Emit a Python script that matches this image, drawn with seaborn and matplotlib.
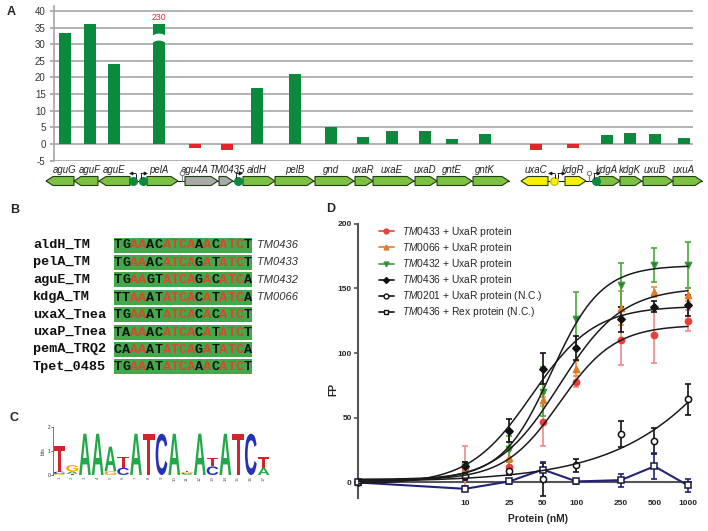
import numpy as np
import pandas as pd
import matplotlib
matplotlib.use("Agg")
import matplotlib.pyplot as plt
import seaborn as sns
from matplotlib.patches import Polygon, Rectangle, PathPatch
from matplotlib.textpath import TextPath
from matplotlib.font_manager import FontProperties
from matplotlib.transforms import Affine2D
from matplotlib.lines import Line2D
from matplotlib.ticker import NullLocator

# ---------------- A: expression change along the gene map ----------------
genes = ['aguG', 'aguF', 'aguE', 'pelA', 'agu4A', 'TM0435', 'aldH', 'pelB', 'gnd',
         'uxaR', 'uxaE', 'uxaD', 'gntE', 'gntK', 'uxaC', 'kdgR', 'kdgA', 'kdgK',
         'uxuB', 'uxuA']
gene_start = [46, 74, 99, 147, 185, 219, 243, 275, 315, 355, 373, 415, 437, 473,
              521, 565, 599, 620, 643, 673]
gene_end = [74, 98, 130, 178, 218, 233, 275, 314, 354, 373, 414, 437, 472, 509,
            548, 586, 620, 642, 673, 702]
strand = [-1, -1, -1, 1, 1, 1, 1, 1, 1, 1, 1, 1, 1, 1, -1, 1, 1, 1, 1, 1]
gene_group = ['green'] * 4 + ['grey'] * 2 + ['green'] * 8 + ['yellow'] * 2 + ['green'] * 4
bar_x = [65, 90, 114, 159, 195, 227, 257, 295, 331, 363, 392, 425, 452, 485,
         536, 573, 607, 630, 655, 684]
fold_change = [33.5, 41.1, 24.0, 230, -1.1, -1.8, 16.9, 21.0, 5.2, 2.2, 4.0, 4.0,
               1.6, 3.0, -1.8, -1.1, 2.7, 3.2, 3.0, 1.8]
y_cap = 36  # pelA bar is broken at this height

# ---------------- B: binding sites ----------------
site_names = ['aldH_TM', 'pelA_TM', 'aguE_TM', 'kdgA_TM', 'uxaX_Tnea', 'uxaP_Tnea',
              'pemA_TRQ2', 'Tpet_0485']
site_seqs = ['TGAAACATCAAACATCT', 'TGAAACATCAGATATCT', 'TGAAGTATCAGACATCA',
             'TTAAATATCACATATCA', 'TGAAATATCACACATCT', 'TAAAACATCACATATCT',
             'CAAAATATCAGATATCA', 'TGAAATATCAAACATCT']
site_locus = ['TM0436', 'TM0433', 'TM0432', 'TM0066', '', '', '', '']
conserved_pos = [3, 4, 7, 8, 9, 10, 12, 14, 15, 16]

# ---------------- C: sequence logo (bits) ----------------
logo_A = [0, 0.10, 1.72, 1.72, 1.03, 0, 1.72, 0, 0, 1.72, 0.04, 1.72, 0, 1.72, 0, 0, 0.29]
logo_C = [0.10, 0, 0, 0, 0, 0.30, 0, 0, 1.72, 0, 0.04, 0, 0.36, 0, 0, 1.72, 0]
logo_G = [0.04, 0.26, 0, 0, 0.15, 0, 0, 0, 0, 0, 0.04, 0, 0, 0, 0, 0, 0]
logo_T = [1.05, 0.05, 0, 0, 0, 0.47, 0, 1.72, 0, 0, 0.04, 0, 0.36, 0, 1.72, 0, 0.47]

# ---------------- D: FP binding assay ----------------
conc = [0, 10, 25, 50, 100, 250, 500, 1000]
fp_TM0433 = [0, 12, 12, 47, 78, 110, 114, 125]
err_TM0433 = [0, 16, 5, 19, 4, 19, 22, 8]
fp_TM0066 = [0, 11, 19, 64, 88, 135, 147, 145]
err_TM0066 = [0, 3, 6, 5, 6, 13, 4, 5]
fp_TM0432 = [0, 12, 26, 70, 126, 153, 168, 168]
err_TM0432 = [0, 4, 10, 19, 21, 17, 13, 18]
fp_TM0436 = [0, 12.5, 40, 88, 104, 126, 136, 137]
err_TM0436 = [0, 3, 9, 12, 9, 10, 4, 8]
fp_TM0201 = [0, 5, 8.7, 2.3, 13.3, 37.4, 31.8, 64.4]
err_TM0201 = [0, 3, 3, 13, 5, 10, 10, 12]
fp_rex = [0, -4.9, 0.8, 10, 0.8, 1.8, 12.5, -2.3]
err_rex = [0, 2, 2, 6, 2, 5, 10, 5]

sns.set_theme(style='white')
plt.rcParams['font.family'] = ['Liberation Sans', 'DejaVu Sans']
plt.rcParams['mathtext.fontset'] = 'custom'
plt.rcParams['mathtext.it'] = 'Liberation Sans:italic'
plt.rcParams['mathtext.rm'] = 'Liberation Sans'
plt.rcParams['axes.unicode_minus'] = False

W, H = 708, 531
fig = plt.figure(figsize=(W / 100, H / 100), dpi=100)


def px_axes(x0, y0, x1, y1):
    return fig.add_axes([x0 / W, 1 - y1 / H, (x1 - x0) / W, (y1 - y0) / H])


# --- A bars
axA = px_axes(54, 6, 693, 160.6)
dfA = pd.DataFrame({'x': bar_x, 'fc': fold_change})
dfA['shown'] = dfA['fc'].clip(upper=y_cap)
dfA['dir'] = np.where(dfA['fc'] > 0, 'up', 'down')
sns.barplot(data=dfA, x='x', y='shown', hue='dir', native_scale=True,
            palette={'up': '#0b8a3e', 'down': '#e3262b'}, width=12 / 23, dodge=False,
            errorbar=None, legend=False, saturation=1, linewidth=0, ax=axA)
axA.set_xlim(54, 693)
axA.set_ylim(-5, 41.5)
axA.set_yticks(range(-5, 41, 5))
axA.set_xticks([])
axA.set_xlabel('')
axA.set_ylabel('')
axA.yaxis.grid(True, color='#a6a6a6', lw=1.2)
axA.set_axisbelow(True)
for s in ['top', 'right', 'bottom']:
    axA.spines[s].set_visible(False)
axA.spines['left'].set_color('#a6a6a6')
axA.spines['left'].set_linewidth(1.2)
axA.tick_params(axis='y', labelsize=7, length=3, color='#a6a6a6', pad=3,
                labelcolor='#333333', left=True)
# break mark on the capped bar
bi = int(np.argmax(fold_change))
bx = bar_x[bi]
xs = np.linspace(bx - 6.5, bx + 6.5, 15)
hump = 0.6 * (1 - ((xs - bx) / 6.5) ** 2)
brk = list(zip(xs, 30.5 + hump)) + list(zip(xs[::-1], (32.6 + hump)[::-1]))
axA.add_patch(Polygon(brk, closed=True, fc='white', ec='none', zorder=3))
axA.text(bx, 37.9, str(fold_change[bi]), color='#e3262b', ha='center', va='center',
         fontsize=6.3)

# --- overlay in pixel coordinates: gene map, panel B, panel labels
ov = px_axes(0, 0, W, H)
ov.set_xlim(0, W)
ov.set_ylim(H, 0)
ov.axis('off')

fills = {'green': '#7cc142', 'grey': '#a9a9a9', 'yellow': '#f6ee0c'}
yc, gh = 181, 9
split = genes.index('uxaC')
ov.plot([gene_start[0], gene_end[split - 1]], [yc, yc], color='k', lw=0.8, zorder=1)
ov.plot([gene_start[split], gene_end[-1]], [yc, yc], color='k', lw=0.8, zorder=1)
for name, s, e, d, g, b in zip(genes, gene_start, gene_end, strand, gene_group, bar_x):
    head = min(7, (e - s) * 0.5)
    if d > 0:
        pts = [(s, yc - gh / 2), (e - head, yc - gh / 2), (e, yc), (e - head, yc + gh / 2),
               (s, yc + gh / 2)]
    else:
        pts = [(e, yc - gh / 2), (s + head, yc - gh / 2), (s, yc), (s + head, yc + gh / 2),
               (e, yc + gh / 2)]
    ov.add_patch(Polygon(pts, closed=True, fc=fills[g], ec='#233d12', lw=0.8, zorder=2))
    ov.text(b, 170, name, style='italic', fontsize=6.9, ha='center',
            va='center', color='#222222')

# binding sites, promoters and terminators on the map
for px, c in [(133, '#0b8a3e'), (143, '#0b8a3e'), (238, '#0b8a3e'), (596, '#0b8a3e'),
              (554, '#f6ee0c')]:
    ov.plot([px], [yc], marker='o', ms=5.5, color=c, mec=c if c != '#f6ee0c' else '#c8c000',
            zorder=3)
for vx, tip in [(136, 129), (141, 148), (236, 243), (555, 548), (558, 566), (594, 601)]:
    ov.plot([vx, vx], [yc - 3, 173.5], color='k', lw=0.7, zorder=3)
    ov.annotate('', xy=(tip, 173.5), xytext=(vx, 173.5),
                arrowprops=dict(arrowstyle='-|>', lw=0.7, color='k', mutation_scale=5,
                                shrinkA=0, shrinkB=0), zorder=3)
for tx in [182, 589]:
    ov.plot([tx, tx], [yc, 175], color='#777777', lw=0.7, zorder=3)
    ov.plot([tx], [173], marker='o', ms=3.2, mfc='white', mec='#777777', mew=0.7, zorder=3)

# panel B
row0, step = 245, 17.4
mono = dict(family='Liberation Mono', weight='bold', fontsize=9.7)
for r, (nm, seq, loc) in enumerate(zip(site_names, site_seqs, site_locus)):
    yr = row0 + r * step
    ov.text(33, yr, nm, ha='left', va='center', color='#111111', **mono)
    ov.add_patch(Rectangle((114, yr - 7.5), 138, 15, fc='#43a84c', ec='none', zorder=1))
    for i, ch in enumerate(seq):
        col = '#d9482b' if (i + 1) in conserved_pos else '#111111'
        ov.text(114 + 8.1 * (i + 0.5), yr + 0.5, ch, ha='center', va='center', color=col,
                zorder=2, **mono)
    if loc:
        ov.text(257, yr, loc, style='italic', fontsize=8, ha='left', va='center',
                color='#333333')

for lab, (lx, ly) in {'A': (7, 12), 'B': (10, 210), 'C': (10, 418), 'D': (326, 209)}.items():
    ov.text(lx, ly, lab, fontweight='bold', fontsize=9, ha='left', va='center')

# --- C logo
axC = px_axes(53, 427, 270, 475)
axC.set_xlim(0.5, 17.5)
axC.set_ylim(0, 2)
logo_font = FontProperties(family='Liberation Sans', weight='bold')
logo_cols = {'A': '#21a848', 'C': '#2432b8', 'G': '#f2a20c', 'T': '#d4232b'}
for i in range(17):
    stack = sorted([(logo_A[i], 'A'), (logo_C[i], 'C'), (logo_G[i], 'G'), (logo_T[i], 'T')])
    y0 = 0
    for h, ch in stack:
        if h <= 0:
            continue
        tp = TextPath((0, 0), ch, size=1, prop=logo_font)
        bb = tp.get_extents()
        tr = Affine2D().translate(-bb.x0, -bb.y0).scale(0.92 / bb.width, h / bb.height) \
            .translate(i + 1 - 0.46, y0)
        axC.add_patch(PathPatch(tr.transform_path(tp), fc=logo_cols[ch], ec='none'))
        y0 += h
for s in ['top', 'right', 'bottom']:
    axC.spines[s].set_visible(False)
axC.spines['left'].set_linewidth(0.5)
axC.spines['left'].set_color('#444444')
axC.set_yticks([0, 1, 2])
axC.set_xticks(range(1, 18))
axC.set_xticklabels([str(i) for i in range(1, 18)], rotation=90)
axC.tick_params(axis='y', labelsize=3.5, length=1.5, width=0.5, pad=0.5, left=True)
axC.tick_params(axis='x', labelsize=3.2, length=0, pad=1, labelcolor='#555555')
axC.set_ylabel('bits', fontsize=3.5, labelpad=1)

# --- D binding curves
axD = px_axes(358, 223.7, 692, 498)
axD.set_xscale('log')
axD.set_xlim(1.1, 1086)
axD.set_ylim(-12, 200)
conc_plot = np.where(np.array(conc) == 0, 1.1, np.array(conc, float))
xfit = np.logspace(np.log10(1.1), 3, 200)


def fit_hill(x, y):
    x = np.asarray(x, float)
    y = np.asarray(y, float)
    best = None
    for K in np.logspace(0, 4, 161):
        for h in np.linspace(0.5, 3, 51):
            f = x ** h / (x ** h + K ** h)
            A = np.column_stack([np.ones_like(f), f])
            coef = np.linalg.lstsq(A, y, rcond=None)[0]
            sse = np.sum((A @ coef - y) ** 2)
            if best is None or sse < best[0]:
                best = (sse, K, h, coef)
    _, K, h, (b, t) = best
    return b + t * xfit ** h / (xfit ** h + K ** h)


series = [
    (fp_TM0433, err_TM0433, '#e8413a', '#f08a8a', 'o', '#e8413a'),
    (fp_TM0066, err_TM0066, '#e07b2a', '#e8923e', '^', '#e07b2a'),
    (fp_TM0432, err_TM0432, '#3a9a3a', '#4aaa3a', 'v', '#2f7a2f'),
    (fp_TM0436, err_TM0436, '#111111', '#111111', 'D', '#111111'),
    (fp_TM0201, err_TM0201, '#111111', '#111111', 'o', 'white'),
]
for fp, err, c, ec, m, fc in series:
    axD.errorbar(conc_plot[1:], fp[1:], yerr=err[1:], fmt='none', ecolor=ec,
                 elinewidth=1.2, capsize=2.5, capthick=1.2, zorder=2)
    sns.scatterplot(x=conc_plot, y=fp, marker=m, color=fc, edgecolor=c, linewidth=1.1,
                    s=14 if m == 'D' else 20, ax=axD, zorder=3, clip_on=False, legend=False)
    axD.plot(xfit, fit_hill(conc, fp), color='k', lw=1.1, zorder=4)

navy = '#232378'
axD.errorbar(conc_plot[1:], fp_rex[1:], yerr=err_rex[1:], fmt='none', ecolor=navy,
             elinewidth=1.2, capsize=2.5, capthick=1.2, zorder=2)
sns.lineplot(x=conc_plot, y=fp_rex, color=navy, lw=1.5, marker='s', ms=5, mfc='white',
             mec='#1a1a40', mew=1.1, errorbar=None, ax=axD, zorder=3, clip_on=False)

axD.axhline(0, color='#555555', lw=1.5, zorder=1.5)
for s in ['top', 'right', 'bottom']:
    axD.spines[s].set_visible(False)
axD.spines['left'].set_color('#555555')
axD.spines['left'].set_linewidth(1.5)
axD.set_yticks([0, 50, 100, 150, 200])
axD.set_xticks(conc[1:])
axD.set_xticklabels([str(c) for c in conc[1:]])
axD.xaxis.set_minor_locator(NullLocator())
axD.tick_params(axis='y', length=3, width=1.2, color='#555555', pad=1.5, labelsize=6,
                left=True)
axD.tick_params(axis='x', length=0, pad=1.5, labelsize=6)
for lab in axD.get_xticklabels() + axD.get_yticklabels():
    lab.set_fontweight('bold')
axD.set_xlabel('')
axD.set_ylabel('')
fig.text(538 / W, 1 - 519 / H, 'Protein (nM)', fontweight='bold', fontsize=7.4,
         ha='center', va='center')
fig.text(333 / W, 1 - 390 / H, 'FP', fontweight='bold', fontsize=7.4, rotation=90,
         ha='center', va='center')

leg_labels = [r'$\it{TM0433}$ + UxaR protein', r'$\it{TM0066}$ + UxaR protein',
              r'$\it{TM0432}$ + UxaR protein', r'$\it{TM0436}$ + UxaR protein',
              r'$\it{TM0201}$ + UxaR protein (N.C.)', r'$\it{TM0436}$ + Rex protein (N.C.)']
handles = [Line2D([0], [0], color=c, marker=m, ms=3.5 if m != 'D' else 3, mfc=fc, mec=c,
                  lw=1.2) for _, _, c, _, m, fc in series]
handles.append(Line2D([0], [0], color='#111111', marker='s', ms=3.5, mfc='white',
                      mec='#111111', lw=1.2))
axD.legend(handles, leg_labels, loc='upper left', bbox_to_anchor=(379 / W, 1 - 225 / H),
           bbox_transform=fig.transFigure, frameon=False, fontsize=7.4, handlelength=1.45,
           handletextpad=0.75, labelspacing=0.2, borderaxespad=0, borderpad=0)

fig.savefig('out.png', dpi=100)
